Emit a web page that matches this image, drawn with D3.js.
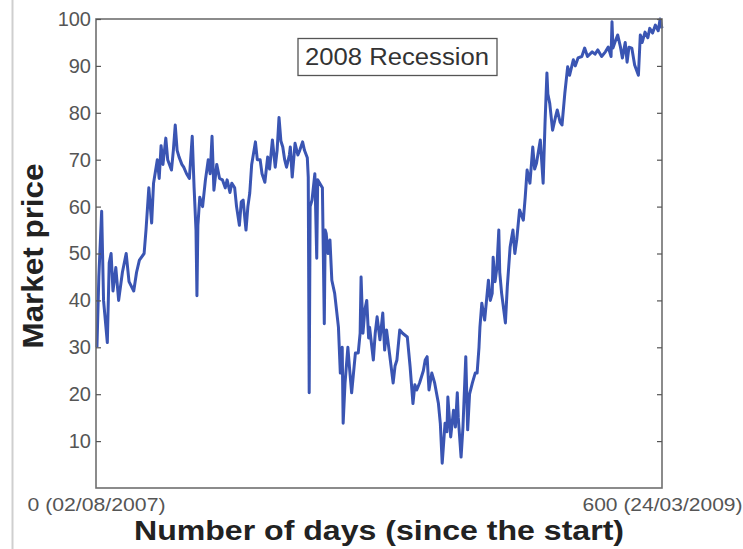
<!DOCTYPE html>
<html>
<head>
<meta charset="utf-8">
<script src="https://cdn.jsdelivr.net/npm/d3@7/dist/d3.min.js"></script>
<style>
  html, body { margin: 0; padding: 0; background: #fff; }
  svg { display: block; font-family: "Liberation Sans", Arial, Helvetica, sans-serif; }
</style>
</head>
<body>
<svg id="chart" width="743" height="549"></svg>
<script>
// Day index since 02/08/2007 and the market price on that day
const days = [
  1, 3, 6, 8, 12, 14, 16, 18, 21, 24, 28, 32, 35, 40, 43, 46, 51, 53, 56, 59,
  61, 65, 67, 69, 71, 74, 76, 80, 82, 84, 86, 88, 91, 93, 96, 99, 102, 104, 106, 107,
  108, 110, 113, 116, 119, 121, 123, 125, 128, 131, 134, 137, 139, 142, 144, 147, 149, 152, 154, 156,
  158, 159, 161, 163, 165, 169, 171, 174, 176, 179, 182, 184, 187, 190, 192, 194, 196, 198, 200, 202,
  205, 206, 208, 211, 214, 216, 219, 221, 224, 225, 226, 227, 229, 232, 234, 235, 240, 242, 243, 244,
  246, 248, 250, 253, 257, 259, 261, 262, 264, 267, 269, 271, 275, 278, 280, 281, 283, 285, 287, 289,
  290, 294, 296, 298, 301, 304, 306, 308, 312, 315, 317, 319, 322, 325, 330, 333, 336, 338, 340, 343,
  347, 349, 351, 353, 356, 359, 363, 365, 367, 370, 372, 373, 376, 379, 381, 383, 384, 387, 389, 392,
  394, 396, 399, 402, 404, 406, 407, 409, 412, 416, 418, 420, 421, 423, 425, 427, 428, 430, 434, 436,
  439, 442, 444, 446, 449, 453, 455, 457, 460, 463, 465, 467, 471, 474, 476, 478, 479, 481, 484, 487,
  489, 492, 494, 497, 500, 502, 506, 508, 511, 515, 518, 521, 526, 529, 532, 536, 540, 543, 546, 547,
  548, 550, 553, 556, 558, 561, 563, 565, 568, 571, 575, 577, 579, 582, 585, 587, 590, 593, 596, 598,
  600
];
const prices = [
  30, 45, 59, 40, 31, 48, 50, 42, 47, 40, 46, 50, 44, 42, 46, 48.6, 50, 55, 64, 56.5,
  65, 70, 66, 73, 69, 74.6, 70, 67.8, 72, 77.4, 72, 70.6, 69, 68.4, 67, 66, 75, 64, 55, 41,
  56, 62, 60, 65.7, 70, 67, 75, 63.5, 69, 66, 65.7, 64, 65.7, 63, 65, 64, 60, 56, 61, 61.4,
  57, 55, 60, 62.9, 68.9, 73.8, 70, 70, 67, 65.2, 70.6, 68, 74.2, 68.4, 72, 79, 74, 72.7, 70, 68.4,
  71, 72.7, 66.3, 73.5, 71, 72, 73.8, 72, 70.4, 66.3, 20.3, 60, 61.4, 67, 49, 65.7, 64, 35, 55, 54.3,
  50, 52.9, 44.3, 41.5, 34.3, 24.5, 30, 13.8, 22.4, 30, 25, 20.3, 28.8, 28.8, 33, 45, 33, 38, 40, 32,
  34.3, 27.3, 33, 36.5, 31.6, 37.3, 29.4, 33.7, 27.3, 22.4, 26, 27.3, 33.7, 33, 32.2, 25.8, 18, 22, 20.9, 22.4,
  25, 27.3, 28, 20.9, 24.5, 22.4, 18, 13.8, 5.3, 13.8, 12, 19.4, 10.9, 16.6, 13, 20.3, 15.1, 6.6, 13, 28,
  12.4, 20, 22.4, 24.5, 24.5, 30, 34.3, 39.4, 35.8, 44.3, 40, 41.5, 49.2, 44, 47, 55, 46, 41.5, 35.2, 42.9,
  51.4, 55, 50, 52.9, 59.3, 57.1, 62, 67.8, 65, 72.7, 68, 69.3, 74.2, 65, 77.8, 88.5, 84, 82, 76.3, 79,
  80.6, 78, 77.4, 84.2, 89.8, 88, 91.3, 90, 91.7, 92, 93.8, 92, 93, 92.5, 93.4, 92, 93, 94, 92, 99.4,
  93.8, 95, 96.6, 94, 91.7, 95, 90.8, 94, 93.8, 90.2, 88, 96.6, 95, 97.2, 96, 98, 97, 98.7, 97.5, 100,
  98
];

const yTicks = [10, 20, 30, 40, 50, 60, 70, 80, 90, 100];
const xTicks = [0, 600];
const xTickLabels = ["0 (02/08/2007)", "600 (24/03/2009)"];
const legendLabel = "2008 Recession";
const xTitle = "Number of days (since the start)";
const yTitle = "Market price";

const svg = d3.select("#chart");
const plotLeft = 96, plotRight = 662, plotTop = 19, plotBottom = 488;

const x = d3.scaleLinear().domain([0, 600]).range([plotLeft, plotRight]);
const y = d3.scaleLinear().domain([0, 100]).range([plotBottom, plotTop]);

// light page edge on the left
svg.append("line")
  .attr("x1", 12.5).attr("x2", 12.5).attr("y1", 0).attr("y2", 549)
  .attr("stroke", "#cfcfcf").attr("stroke-width", 2);

// price series
const series = days.map((d, i) => ({ day: d, price: prices[i] }));
const line = d3.line().x(d => x(d.day)).y(d => y(d.price));

svg.append("path")
  .datum(series)
  .attr("d", line)
  .attr("fill", "none")
  .attr("stroke", "#3a55b3")
  .attr("stroke-width", 3)
  .attr("stroke-linejoin", "round");

// plot frame
svg.append("rect")
  .attr("x", plotLeft).attr("y", plotTop)
  .attr("width", plotRight - plotLeft).attr("height", plotBottom - plotTop)
  .attr("fill", "none").attr("stroke", "#6f6f6f").attr("stroke-width", 1.6);

// left axis: inward ticks with labels
const yAxisL = svg.append("g")
  .attr("transform", `translate(${plotLeft},0)`)
  .call(d3.axisLeft(y).tickValues(yTicks).tickSizeInner(-5).tickSizeOuter(0).tickPadding(5));
yAxisL.select(".domain").remove();
yAxisL.selectAll(".tick line").attr("stroke", "#555").attr("stroke-width", 1.2);
yAxisL.selectAll(".tick text")
  .attr("x", -5)
  .attr("fill", "#555")
  .style("font-size", "20px")
  .style("font-family", "'Liberation Sans', Arial, sans-serif");

// right axis: inward ticks, no labels
const yAxisR = svg.append("g")
  .attr("transform", `translate(${plotRight},0)`)
  .call(d3.axisRight(y).tickValues(yTicks).tickSizeInner(-5).tickSizeOuter(0).tickFormat(""));
yAxisR.select(".domain").remove();
yAxisR.selectAll(".tick line").attr("stroke", "#555").attr("stroke-width", 1.2);

// bottom axis labels at the two ends
const xAxis = svg.append("g")
  .attr("transform", `translate(0,${plotBottom})`)
  .call(d3.axisBottom(x).tickValues(xTicks).tickSizeInner(0).tickSizeOuter(0)
    .tickFormat((d, i) => xTickLabels[i]));
xAxis.select(".domain").remove();
xAxis.selectAll(".tick text")
  .attr("y", 0).attr("dy", "0")
  .attr("transform", "translate(0,23)")
  .attr("fill", "#555")
  .style("font-size", "19px")
  .style("font-family", "'Liberation Sans', Arial, sans-serif")
  .attr("textLength", (d, i) => i === 0 ? 138 : 160)
  .attr("lengthAdjust", "spacingAndGlyphs");

// legend box
const lg = svg.append("g");
lg.append("rect")
  .attr("x", 298).attr("y", 38.5).attr("width", 199).attr("height", 37)
  .attr("fill", "#fff").attr("stroke", "#555").attr("stroke-width", 1.3);
lg.append("text")
  .attr("x", 397).attr("y", 65)
  .attr("text-anchor", "middle")
  .attr("fill", "#333")
  .style("font-size", "23px")
  .attr("textLength", 184).attr("lengthAdjust", "spacingAndGlyphs")
  .text(legendLabel);

// axis titles
svg.append("text")
  .attr("x", (plotLeft + plotRight) / 2).attr("y", 540)
  .attr("text-anchor", "middle")
  .attr("fill", "#222")
  .style("font-size", "28px").style("font-weight", "bold")
  .attr("textLength", 490).attr("lengthAdjust", "spacingAndGlyphs")
  .text(xTitle);

svg.append("text")
  .attr("transform", "translate(43,256) rotate(-90)")
  .attr("text-anchor", "middle")
  .attr("fill", "#222")
  .style("font-size", "29px").style("font-weight", "bold")
  .attr("textLength", 185).attr("lengthAdjust", "spacingAndGlyphs")
  .text(yTitle);
</script>
</body>
</html>
